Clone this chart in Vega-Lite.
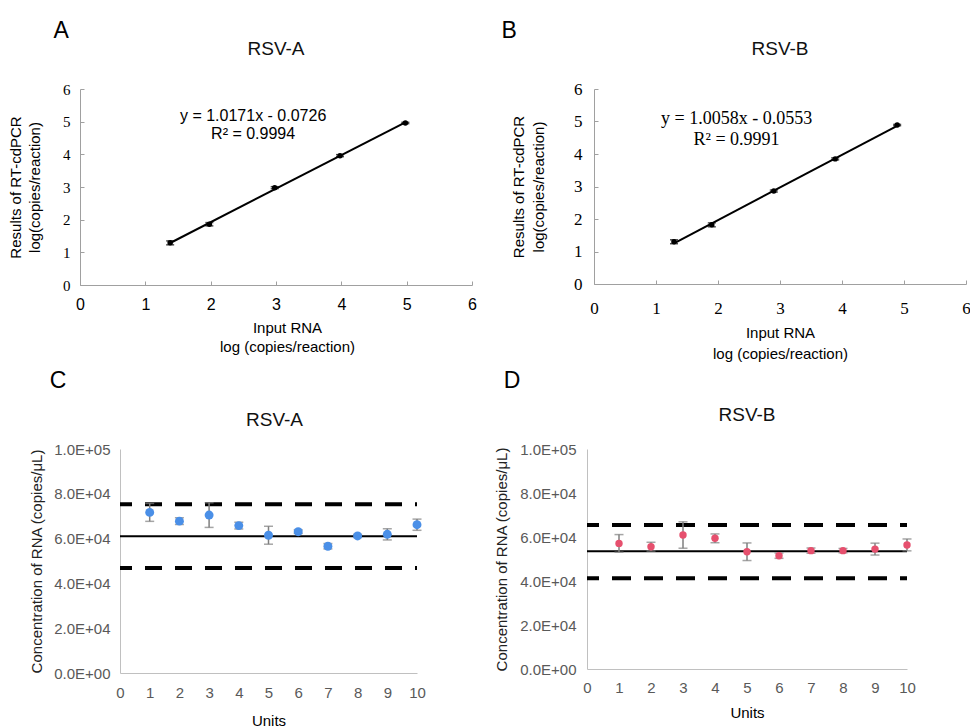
{
  "$schema": "https://vega.github.io/schema/vega-lite/v6.json",
  "background": "white",
  "padding": {"left": 8, "top": 20, "right": 0, "bottom": 0},
  "autosize": {"type": "pad"},
  "config": {"view": {"stroke": null}, "font": "Liberation Sans", "axis": {"grid": false, "labelFlush": false, "labelOverlap": false}},
  "datasets": {
    "stdA": [
      {"input": 1.38, "result": 1.29, "sd": 0.06},
      {"input": 1.98, "result": 1.86, "sd": 0.05},
      {"input": 2.98, "result": 2.98, "sd": 0.03},
      {"input": 3.98, "result": 3.96, "sd": 0.03},
      {"input": 4.98, "result": 4.96, "sd": 0.02}
    ],
    "stdB": [
      {"input": 1.29, "result": 1.30, "sd": 0.06},
      {"input": 1.90, "result": 1.82, "sd": 0.06},
      {"input": 2.90, "result": 2.86, "sd": 0.03},
      {"input": 3.89, "result": 3.85, "sd": 0.03},
      {"input": 4.89, "result": 4.89, "sd": 0.02}
    ],
    "eqA": [
      {"input": 2.65, "result": 5.17, "label": "y = 1.0171x - 0.0726"},
      {"input": 2.65, "result": 4.62, "label": "R² = 0.9994"}
    ],
    "eqB": [
      {"input": 2.30, "result": 5.09, "label": "y = 1.0058x - 0.0553"},
      {"input": 2.30, "result": 4.42, "label": "R² = 0.9991"}
    ],
    "qcA": [
      {"unit": 1, "conc": 71700, "sd": 4000},
      {"unit": 2, "conc": 67800, "sd": 1500},
      {"unit": 3, "conc": 70500, "sd": 5500},
      {"unit": 4, "conc": 65800, "sd": 1500},
      {"unit": 5, "conc": 61500, "sd": 4000},
      {"unit": 6, "conc": 63100, "sd": 800},
      {"unit": 7, "conc": 56600, "sd": 1200},
      {"unit": 8, "conc": 61200, "sd": 700},
      {"unit": 9, "conc": 61900, "sd": 2500},
      {"unit": 10, "conc": 66200, "sd": 2500}
    ],
    "qcB": [
      {"unit": 1, "conc": 57100, "sd": 4000},
      {"unit": 2, "conc": 55600, "sd": 2000},
      {"unit": 3, "conc": 60900, "sd": 6000},
      {"unit": 4, "conc": 59400, "sd": 2000},
      {"unit": 5, "conc": 53300, "sd": 4000},
      {"unit": 6, "conc": 51500, "sd": 1200},
      {"unit": 7, "conc": 53800, "sd": 1200},
      {"unit": 8, "conc": 53800, "sd": 1000},
      {"unit": 9, "conc": 54500, "sd": 2700},
      {"unit": 10, "conc": 56400, "sd": 2700}
    ],
    "limA": [
      {"unit": 0, "unitEnd": 10, "conc": 75300, "kind": "limit"},
      {"unit": 0, "unitEnd": 10, "conc": 46900, "kind": "limit"},
      {"unit": 0, "unitEnd": 10, "conc": 61100, "kind": "mean"}
    ],
    "limB": [
      {"unit": 0, "unitEnd": 10, "conc": 65500, "kind": "limit"},
      {"unit": 0, "unitEnd": 10, "conc": 41300, "kind": "limit"},
      {"unit": 0, "unitEnd": 10, "conc": 53500, "kind": "mean"}
    ]
  },
  "columns": 1,
  "align": "none",
  "spacing": 9,
  "concat": [
    {
      "spacing": 24,
      "hconcat": [
        {
          "title": {"text": "A", "anchor": "start", "frame": "bounds", "fontSize": 23, "fontWeight": "normal", "font": "Liberation Sans", "color": "#000", "dx": 45, "offset": -3},
          "vconcat": [
            {
              "width": 392, "height": 196,
              "title": {"text": "RSV-A", "anchor": "middle", "frame": "group", "fontSize": 19, "fontWeight": "normal", "font": "Liberation Sans", "color": "#111", "offset": 23},
              "data": {"name": "stdA"},
              "encoding": {
                "x": {"field": "input", "type": "quantitative", "scale": {"domain": [0, 6]},
                  "axis": {"title": ["Input RNA", "log (copies/reaction)"], "values": [0, 1, 2, 3, 4, 5, 6], "format": "d", "domainColor": "#a0a0a0", "tickColor": "#a0a0a0", "tickSize": -4, "labelFont": "Liberation Sans", "labelFontSize": 16, "labelColor": "#000", "labelPadding": 15, "titleFont": "Liberation Sans", "titleFontSize": 15, "titleFontWeight": "normal", "titleColor": "#000", "titlePadding": 8, "titleLineHeight": 19, "titleX": 207}},
                "y": {"field": "result", "type": "quantitative", "scale": {"domain": [0, 6]},
                  "axis": {"title": ["Results of RT-cdPCR", "log(copies/reaction)"], "values": [0, 1, 2, 3, 4, 5, 6], "format": "d", "domainColor": "#a0a0a0", "tickColor": "#a0a0a0", "tickSize": -4, "labelFont": "Liberation Serif", "labelFontSize": 15, "labelColor": "#000", "labelPadding": 14, "titleFont": "Liberation Sans", "titleFontSize": 15, "titleFontWeight": "normal", "titleColor": "#000", "titlePadding": 20, "titleLineHeight": 19}}
              },
              "layer": [
                {
                  "transform": [{"regression": "result", "on": "input"}],
                  "mark": {"type": "line", "color": "#000", "strokeWidth": 2}
                },
                {
                  "mark": {"type": "errorbar", "color": "#000", "ticks": true, "size": 8, "thickness": 1.5},
                  "encoding": {"yError": {"field": "sd"}}
                },
                {
                  "mark": {"type": "point", "filled": true, "color": "#000", "size": 30, "opacity": 1}
                },
                {
                  "data": {"name": "eqA"},
                  "mark": {"type": "text", "font": "Liberation Sans", "fontSize": 16, "color": "#000", "align": "center", "baseline": "middle"},
                  "encoding": {"text": {"field": "label"}}
                }
              ]
            }
          ]
        },
        {
          "title": {"text": "B", "anchor": "start", "frame": "bounds", "fontSize": 23, "fontWeight": "normal", "font": "Liberation Sans", "color": "#000", "dx": -10, "offset": -3},
          "vconcat": [
            {
              "width": 372, "height": 195,
              "title": {"text": "RSV-B", "anchor": "middle", "frame": "group", "fontSize": 19, "fontWeight": "normal", "font": "Liberation Sans", "color": "#111", "offset": 21},
              "data": {"name": "stdB"},
              "encoding": {
                "x": {"field": "input", "type": "quantitative", "scale": {"domain": [0, 6]},
                  "axis": {"title": ["Input RNA", "log (copies/reaction)"], "values": [0, 1, 2, 3, 4, 5, 6], "format": "d", "domainColor": "#a0a0a0", "tickColor": "#a0a0a0", "tickSize": -4, "labelFont": "Liberation Serif", "labelFontSize": 17, "labelColor": "#000", "labelPadding": 20, "titleFont": "Liberation Sans", "titleFontSize": 15, "titleFontWeight": "normal", "titleColor": "#000", "titlePadding": 9, "titleLineHeight": 21}},
                "y": {"field": "result", "type": "quantitative", "scale": {"domain": [0, 6]},
                  "axis": {"title": ["Results of RT-cdPCR", "log(copies/reaction)"], "values": [0, 1, 2, 3, 4, 5, 6], "format": "d", "domainColor": "#a0a0a0", "tickColor": "#a0a0a0", "tickSize": -4, "labelFont": "Liberation Serif", "labelFontSize": 17, "labelColor": "#000", "labelPadding": 16, "titleFont": "Liberation Sans", "titleFontSize": 15, "titleFontWeight": "normal", "titleColor": "#000", "titlePadding": 27, "titleLineHeight": 20}}
              },
              "layer": [
                {
                  "transform": [{"regression": "result", "on": "input"}],
                  "mark": {"type": "line", "color": "#000", "strokeWidth": 2}
                },
                {
                  "mark": {"type": "errorbar", "color": "#000", "ticks": true, "size": 8, "thickness": 1.5},
                  "encoding": {"yError": {"field": "sd"}}
                },
                {
                  "mark": {"type": "point", "filled": true, "color": "#000", "size": 30, "opacity": 1}
                },
                {
                  "data": {"name": "eqB"},
                  "mark": {"type": "text", "font": "Liberation Serif", "fontSize": 18, "color": "#000", "align": "center", "baseline": "middle"},
                  "encoding": {"text": {"field": "label"}}
                }
              ]
            }
          ]
        }
      ]
    },
    {
      "spacing": 68,
      "hconcat": [
        {
          "title": {"text": "C", "anchor": "start", "frame": "bounds", "fontSize": 23, "fontWeight": "normal", "font": "Liberation Sans", "color": "#000", "dx": 20, "offset": 18},
          "vconcat": [
            {
              "width": 337, "height": 224,
              "title": {"text": "RSV-A", "anchor": "middle", "frame": "group", "fontSize": 19, "fontWeight": "normal", "font": "Liberation Sans", "color": "#111", "offset": 12, "dx": 26},
              "encoding": {
                "x": {"field": "unit", "type": "quantitative", "scale": {"domain": [0, 10], "range": [40, 337]},
                  "axis": {"title": "Units", "values": [0, 1, 2, 3, 4, 5, 6, 7, 8, 9, 10], "format": "d", "ticks": false, "domainColor": "#c0c0c0", "labelColor": "#595959", "labelFontSize": 15, "labelPadding": 12, "titleColor": "#000", "titleFontSize": 15, "titleFontWeight": "normal", "titlePadding": 13}},
                "y": {"field": "conc", "type": "quantitative", "scale": {"domain": [0, 100000]},
                  "axis": {"title": "Concentration of RNA (copies/μL)", "offset": -40, "values": [0, 20000, 40000, 60000, 80000, 100000], "labelExpr": "replace(format(datum.value, '.1e'), 'e+', 'E+0')", "ticks": false, "domainColor": "#c0c0c0", "labelColor": "#595959", "labelFontSize": 15, "labelPadding": 10, "titleColor": "#222", "titleFontSize": 15, "titleFontWeight": "normal", "titlePadding": 9}}
              },
              "layer": [
                {
                  "data": {"name": "limA"},
                  "transform": [{"filter": "datum.kind === 'limit'"}],
                  "mark": {"type": "rule", "color": "#000", "strokeWidth": 4, "strokeDash": [17, 13], "strokeDashOffset": 5},
                  "encoding": {"x2": {"field": "unitEnd"}}
                },
                {
                  "data": {"name": "limA"},
                  "transform": [{"filter": "datum.kind === 'mean'"}],
                  "mark": {"type": "rule", "color": "#000", "strokeWidth": 2},
                  "encoding": {"x2": {"field": "unitEnd"}}
                },
                {
                  "data": {"name": "qcA"},
                  "mark": {"type": "errorbar", "color": "#7f7f7f", "ticks": true, "size": 9, "thickness": 1.5},
                  "encoding": {"yError": {"field": "sd"}}
                },
                {
                  "data": {"name": "qcA"},
                  "mark": {"type": "point", "filled": true, "color": "#4a8fe7", "size": 80, "opacity": 1}
                }
              ]
            }
          ]
        },
        {
          "title": {"text": "D", "anchor": "start", "frame": "bounds", "fontSize": 23, "fontWeight": "normal", "font": "Liberation Sans", "color": "#000", "dx": 9, "offset": 13},
          "vconcat": [
            {
              "width": 320, "height": 220,
              "title": {"text": "RSV-B", "anchor": "middle", "frame": "group", "fontSize": 19, "fontWeight": "normal", "font": "Liberation Sans", "color": "#111", "offset": 17},
              "encoding": {
                "x": {"field": "unit", "type": "quantitative", "scale": {"domain": [0, 10]},
                  "axis": {"title": "Units", "values": [0, 1, 2, 3, 4, 5, 6, 7, 8, 9, 10], "format": "d", "ticks": false, "domainColor": "#c0c0c0", "labelColor": "#595959", "labelFontSize": 15, "labelPadding": 11, "titleColor": "#000", "titleFontSize": 15, "titleFontWeight": "normal", "titlePadding": 10}},
                "y": {"field": "conc", "type": "quantitative", "scale": {"domain": [0, 100000]},
                  "axis": {"title": "Concentration of RNA (copies/μL)", "values": [0, 20000, 40000, 60000, 80000, 100000], "labelExpr": "replace(format(datum.value, '.1e'), 'e+', 'E+0')", "ticks": false, "domainColor": "#c0c0c0", "labelColor": "#595959", "labelFontSize": 15, "labelPadding": 11, "titleColor": "#222", "titleFontSize": 15, "titleFontWeight": "normal", "titlePadding": 10}}
              },
              "layer": [
                {
                  "data": {"name": "limB"},
                  "transform": [{"filter": "datum.kind === 'limit'"}],
                  "mark": {"type": "rule", "color": "#000", "strokeWidth": 4, "strokeDash": [19, 13], "strokeDashOffset": 7},
                  "encoding": {"x2": {"field": "unitEnd"}}
                },
                {
                  "data": {"name": "limB"},
                  "transform": [{"filter": "datum.kind === 'mean'"}],
                  "mark": {"type": "rule", "color": "#000", "strokeWidth": 2},
                  "encoding": {"x2": {"field": "unitEnd"}}
                },
                {
                  "data": {"name": "qcB"},
                  "mark": {"type": "errorbar", "color": "#7f7f7f", "ticks": true, "size": 9, "thickness": 1.5},
                  "encoding": {"yError": {"field": "sd"}}
                },
                {
                  "data": {"name": "qcB"},
                  "mark": {"type": "point", "filled": true, "color": "#e6506e", "size": 55, "opacity": 1}
                }
              ]
            }
          ]
        }
      ]
    }
  ]
}
